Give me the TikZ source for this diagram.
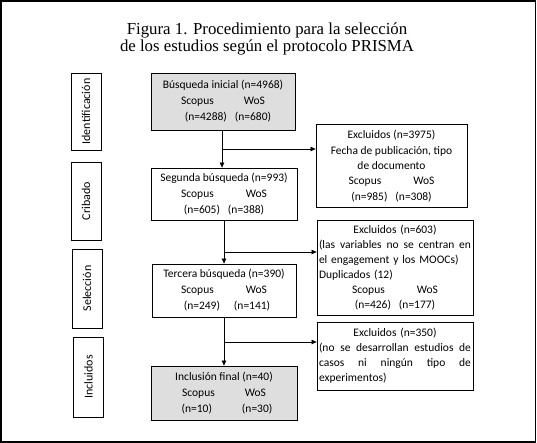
\documentclass[tikz,border=0pt]{standalone}
\usepackage{fontspec}
\setmainfont{Carlito}
\newfontfamily\titlefont{Liberation Serif}
\usetikzlibrary{arrows.meta}
\definecolor{boxfill}{RGB}{222,222,222}
\begin{document}
\begin{tikzpicture}[x=1pt,y=-1pt,
  box/.style={draw, line width=0.8pt, inner sep=0pt, align=center,
    font=\fontsize{11.5}{16}\selectfont},
  grey/.style={fill=boxfill},
  exbox/.style={draw, line width=0.8pt, inner sep=0pt, align=left, text width=152pt,
    font=\fontsize{11.5}{15}\selectfont},
  side/.style={draw, line width=0.8pt, inner sep=0pt, rotate=90, minimum height=30pt,
    font=\fontsize{12}{14}\selectfont},
  arr/.style={line width=0.6pt, -{Triangle[length=5pt,width=4.5pt]}},
  ln/.style={line width=0.6pt}]
\useasboundingbox (0,0) rectangle (537,443);
\draw[line width=1.6pt] (1,1) rectangle (535.5,442);
\node[font=\titlefont\fontsize{16.8}{16.5}\selectfont, align=center] (title) at (267,39)
  {Figura 1. Procedimiento para la selección\\de los estudios según el protocolo PRISMA};
% side labels
\node[side, minimum width=77pt] (s1) at (86,111.5) {Identificación};
\node[side, minimum width=78pt] (s2) at (86,201) {Cribado};
\node[side, minimum width=79pt] (s3) at (87,288.5) {Selección};
\node[side, minimum width=80pt] (s4) at (88.5,377) {Incluidos};
% main boxes
\node[box, grey, minimum width=144pt, minimum height=57pt] (b1) at (223,101.5)
  {Búsqueda inicial (n=4968)\\Scopus\hspace{30pt}WoS\\\hspace*{10pt}(n=4288)\hspace{8pt}(n=680)};
\node[box, minimum width=146pt, minimum height=52pt] (b2) at (224,194)
  {Segunda búsqueda (n=993)\\Scopus\hspace{32pt}WoS\\(n=605)\hspace{8pt}(n=388)};
\node[box, minimum width=144pt, minimum height=53pt] (b3) at (224,290.5)
  {Tercera búsqueda (n=390)\\Scopus\hspace{32pt}WoS\\\hspace*{6pt}(n=249)\hspace{14pt}(n=141)};
\node[box, grey, minimum width=146pt, minimum height=54pt] (b4) at (224,393)
  {Inclusión final (n=40)\\Scopus\hspace{30pt}WoS\\\hspace*{6pt}(n=10)\hspace{30pt}(n=30)};
% exclusion boxes
\node[box, minimum width=151pt, minimum height=83pt, font=\fontsize{11.5}{15.3}\selectfont] (e1) at (391.5,166)
  {Excluidos (n=3975)\\Fecha de publicación, tipo\\de documento\\Scopus\hspace{32pt}WoS\\(n=985)\hspace{8pt}(n=308)};
\node[exbox, minimum width=156pt, minimum height=95pt] (e2) at (395,267.5)
  {\makebox[\linewidth]{Excluidos (n=603)}\\
   \makebox[\linewidth]{(las\hfill variables\hfill no\hfill se\hfill centran\hfill en}\\
   el engagement y los MOOCs)\\
   Duplicados (12)\\
   \makebox[\linewidth]{Scopus\hspace{32pt}WoS}\\
   \makebox[\linewidth]{(n=426)\hspace{8pt}(n=177)}};
\node[exbox, minimum width=156pt, minimum height=68pt] (e3) at (395,356)
  {\makebox[\linewidth]{Excluidos (n=350)}\\
   \makebox[\linewidth]{(no\hfill se\hfill desarrollan\hfill estudios\hfill de}\\
   \makebox[\linewidth]{casos\hfill ni\hfill ningún\hfill tipo\hfill de}\\
   experimentos)};
% connectors
\coordinate (j1) at ([xshift=-1pt]b1.south |- 0,149);
\coordinate (j2) at (b2.south |- 0,252);
\coordinate (j3) at (b3.south |- 0,342);
\draw[arr] ([xshift=-1pt]b1.south) -- ([xshift=-1pt]b1.south |- b2.north);
\draw[arr] (j1) -- (j1 -| e1.west);
\draw[arr] (b2.south) -- (b2.south |- b3.north);
\draw[arr] (j2) -- (j2 -| e2.west);
\draw[arr] (b3.south) -- (b3.south |- b4.north);
\draw[arr] (j3) -- (j3 -| e3.west);
\end{tikzpicture}
\end{document}
